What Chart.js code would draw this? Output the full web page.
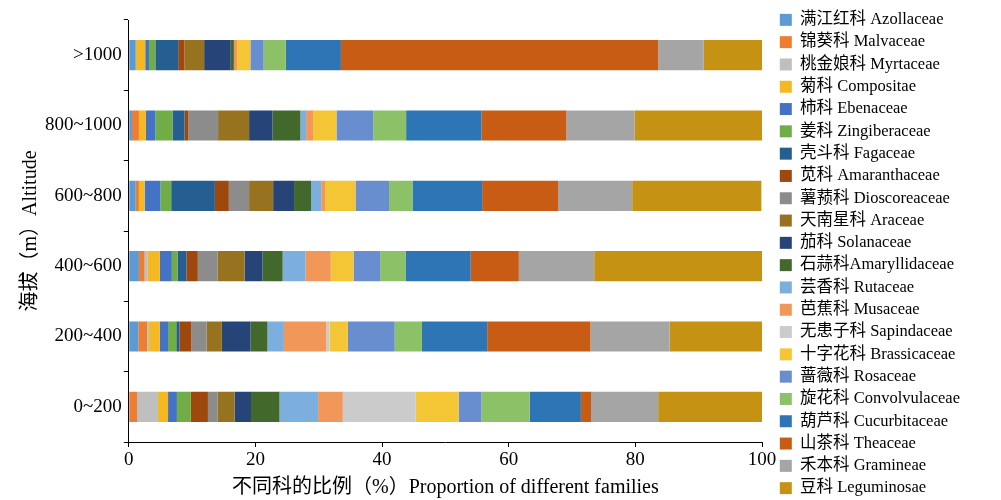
<!DOCTYPE html>
<html>
<head>
<meta charset="utf-8">
<script src="https://cdn.jsdelivr.net/npm/chart.js@4/dist/chart.umd.min.js"></script>
<style>
  html, body { margin: 0; padding: 0; background: #fff; }
  #wrap { width: 1001px; height: 500px; position: relative; }
</style>
</head>
<body>
<div id="wrap"><canvas id="familyChart"></canvas></div>
<script>
// altitude bands, top to bottom
var altitudes = ['>1000', '800~1000', '600~800', '400~600', '200~400', '0~200'];
var xTicks = [0, 20, 40, 60, 80, 100];

// proportion of each family (%) per altitude band
var azollaceae     = [1.1, 0.5, 1.1, 1.6, 1.5, 0];
var malvaceae      = [0, 1.1, 0.5, 0.9, 1.4, 1.3];
var myrtaceae      = [0, 0, 0, 0.5, 0.3, 3.3];
var compositae     = [1.5, 1.1, 0.9, 1.9, 1.7, 1.6];
var ebenaceae      = [0.6, 1.5, 2.5, 1.9, 1.3, 1.4];
var zingiberaceae  = [1.0, 2.7, 1.7, 0.9, 1.3, 2.2];
var fagaceae       = [3.6, 1.9, 6.9, 1.4, 0.5, 0];
var amaranthaceae  = [1.0, 0.6, 2.2, 1.8, 1.9, 2.7];
var dioscoreaceae  = [0, 4.7, 3.2, 3.1, 2.4, 1.5];
var araceae        = [3.1, 4.9, 3.8, 4.3, 2.4, 2.7];
var solanaceae     = [4.2, 3.7, 3.3, 2.8, 4.5, 2.6];
var amaryllidaceae = [0.5, 4.4, 2.7, 3.2, 2.7, 4.5];
var rutaceae       = [0, 0.9, 1.6, 3.6, 2.6, 6.1];
var musaceae       = [0.5, 1.1, 0.6, 4.0, 6.7, 3.9];
var sapindaceae    = [0, 0, 0, 0, 0.5, 11.5];
var brassicaceae   = [2.1, 3.7, 4.8, 3.6, 2.9, 6.8];
var rosaceae       = [2.1, 5.8, 5.3, 4.2, 7.4, 3.6];
var convolvulaceae = [3.5, 5.2, 3.7, 4.0, 4.3, 7.6];
var cucurbitaceae  = [8.7, 11.9, 11.0, 10.3, 10.3, 8.1];
var theaceae       = [50.1, 13.4, 12.0, 7.6, 16.3, 1.6];
var gramineae      = [7.2, 10.8, 11.7, 11.9, 12.5, 10.6];
var leguminosae    = [9.2, 20.1, 20.4, 26.5, 14.6, 16.4];

var familyNames = [
  '满江红科 Azollaceae', '锦葵科 Malvaceae', '桃金娘科 Myrtaceae', '菊科 Compositae',
  '柿科 Ebenaceae', '姜科 Zingiberaceae', '壳斗科 Fagaceae', '苋科 Amaranthaceae',
  '薯蓣科 Dioscoreaceae', '天南星科 Araceae', '茄科 Solanaceae', '石蒜科Amaryllidaceae',
  '芸香科 Rutaceae', '芭蕉科 Musaceae', '无患子科 Sapindaceae', '十字花科 Brassicaceae',
  '蔷薇科 Rosaceae', '旋花科 Convolvulaceae', '葫芦科 Cucurbitaceae', '山茶科 Theaceae',
  '禾本科 Gramineae', '豆科 Leguminosae'
];
var familyValues = [
  azollaceae, malvaceae, myrtaceae, compositae, ebenaceae, zingiberaceae, fagaceae,
  amaranthaceae, dioscoreaceae, araceae, solanaceae, amaryllidaceae, rutaceae, musaceae,
  sapindaceae, brassicaceae, rosaceae, convolvulaceae, cucurbitaceae, theaceae,
  gramineae, leguminosae
];
var familyColors = [
  '#5b9bd5', '#ed7d31', '#bfbfbf', '#f4b822', '#4472c4', '#70ad47', '#255e91',
  '#9e480e', '#8c8c8c', '#98731f', '#264478', '#43682b', '#7cafdd', '#f1975a',
  '#cbcbcb', '#f4c534', '#698ed0', '#8cc168', '#2e75b6', '#c85c14', '#a5a5a5', '#c69214'
];

var serif = '"Liberation Serif", "Times New Roman", "Noto Sans CJK SC", serif';

var datasets = familyNames.map(function (name, i) {
  return {
    label: name,
    data: familyValues[i],
    backgroundColor: familyColors[i],
    borderWidth: 0,
    barPercentage: 0.43,
    categoryPercentage: 1
  };
});

// keep all 22 legend entries in one column and place it like the original
var legendPlace = {
  id: 'legendPlace',
  beforeInit: function (chart) {
    var legend = chart.legend;
    var origFit = legend.fit;
    var origDraw = legend.draw;
    legend.fit = function () {
      var h = this.maxHeight;
      this.maxHeight = chart.height;
      origFit.bind(this)();
      this.maxHeight = h;
      this.height = Math.min(this.height, h);
      this.width = 239;
    };
    legend.draw = function () {
      var saved = [this.left, this.right, this.top, this.bottom];
      this.left += 12;
      this.right += 12;
      this.top = 4;
      this.bottom = chart.height + 4;
      origDraw.bind(this)();
      this.left = saved[0];
      this.right = saved[1];
      this.top = saved[2];
      this.bottom = saved[3];
    };
  }
};

new Chart(document.getElementById('familyChart'), {
  type: 'bar',
  data: { labels: altitudes, datasets: datasets },
  plugins: [legendPlace],
  options: {
    indexAxis: 'y',
    responsive: true,
    maintainAspectRatio: false,
    animation: false,
    layout: { padding: { top: 20, left: 19, bottom: 0, right: 0 } },
    plugins: {
      tooltip: { enabled: false },
      legend: {
        position: 'right',
        labels: {
          boxWidth: 12,
          boxHeight: 12,
          padding: 5.8,
          color: '#000',
          font: { family: serif, size: 16.5 }
        }
      }
    },
    scales: {
      x: {
        stacked: true,
        min: 0,
        max: 100,
        afterBuildTicks: function (axis) {
          axis.ticks = xTicks.map(function (v) { return { value: v }; });
        },
        border: { color: '#000', width: 1 },
        grid: { drawOnChartArea: false, drawTicks: true, tickLength: 5, color: '#000' },
        ticks: { color: '#000', font: { family: serif, size: 19 }, padding: 2, maxRotation: 0 },
        title: {
          display: true,
          text: '不同科的比例（%）Proportion of different families',
          color: '#000',
          font: { family: serif, size: 20 },
          padding: { top: 2.2, bottom: 0 }
        }
      },
      y: {
        stacked: true,
        border: { color: '#000', width: 1 },
        grid: { drawOnChartArea: false, drawTicks: true, tickLength: 5, color: '#000' },
        ticks: { color: '#000', font: { family: serif, size: 19 }, padding: 2 },
        title: {
          display: true,
          text: '海拔（m）Altitude',
          color: '#000',
          font: { family: serif, size: 20 },
          padding: { top: 0, bottom: 0 }
        }
      }
    }
  }
});
</script>
</body>
</html>
